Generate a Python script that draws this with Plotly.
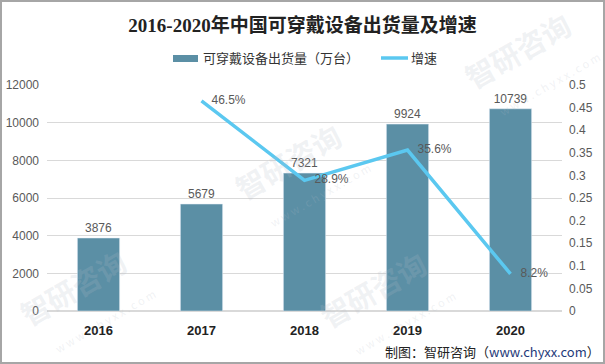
import plotly.graph_objects as go

years = ["2016", "2017", "2018", "2019", "2020"]
shipments = [3876, 5679, 7321, 9924, 10739]
growth_years = ["2017", "2018", "2019", "2020"]
growth = [0.465, 0.289, 0.356, 0.082]
growth_labels = ["46.5%", "28.9%", "35.6%", "8.2%"]

series_bar_name = "可穿戴设备出货量（万台）"
series_line_name = "增速"

BAR_COLOR = "#5B8FA5"
LINE_COLOR = "#5BC8F0"

L, R, T, B = 47, 43, 85, 53
W, H = 605, 364
pw, ph = W - L - R, H - T - B

def px(x):
    return (x - L) / pw

def py(y):
    return (H - B - y) / ph

fig = go.Figure()
fig.add_trace(go.Bar(
    x=years, y=shipments, name=series_bar_name,
    marker_color=BAR_COLOR, width=0.41,
    text=[str(v) for v in shipments], textposition="outside",
    textfont=dict(family="Liberation Sans, Arial", color="#595959", size=12), cliponaxis=False,
    showlegend=False,
))
fig.add_trace(go.Scatter(
    x=growth_years, y=growth, name=series_line_name, yaxis="y2", mode="lines+text",
    line=dict(color=LINE_COLOR, width=3.5),
    text=["\u00a0\u00a0\u00a0" + s for s in growth_labels], textposition="middle right",
    textfont=dict(family="Liberation Sans, Arial", color="#595959", size=12), cliponaxis=False,
    showlegend=False,
))

# faint watermarks (kept inside the picture)
wm_centers = [(530, 62), (300, 172), (85, 298), (385, 300)]
annotations = []
for (cx, cy) in wm_centers:
    annotations.append(dict(
        text="<b>智研咨询</b><br><span style='font-size:11px'>     w w w . c h y x x . c o m</span>",
        xref="paper", yref="paper", x=px(cx), y=py(cy), xanchor="center", yanchor="middle",
        showarrow=False, textangle=-30, align="left",
        font=dict(size=29, color="rgba(180,186,198,0.2)")))

# legend (drawn manually)
annotations.append(dict(text=series_bar_name, xref="paper", yref="paper", x=px(201), y=py(58),
                        xanchor="left", yanchor="middle", showarrow=False,
                        font=dict(size=13, color="#333333")))
annotations.append(dict(text=series_line_name, xref="paper", yref="paper", x=px(409), y=py(58),
                        xanchor="left", yanchor="middle", showarrow=False,
                        font=dict(size=13, color="#333333")))
annotations.append(dict(
    text="制图：智研咨询（<span style='color:#1F3A7A'>www.chyxx.com</span>）",
    xref="paper", yref="paper", x=px(602), y=py(351), xanchor="right", yanchor="middle",
    showarrow=False, font=dict(size=13, color="#222222")))

shapes = [
    dict(type="rect", xref="paper", yref="paper", x0=px(173), x1=px(198), y0=py(62), y1=py(55),
         fillcolor=BAR_COLOR, line=dict(width=0)),
    dict(type="line", xref="paper", yref="paper", x0=px(381), x1=px(408), y0=py(58), y1=py(58),
         line=dict(color=LINE_COLOR, width=3.5)),
    dict(type="rect", xref="paper", yref="paper",
         x0=px(1), x1=px(604), y0=py(363), y1=py(1),
         line=dict(color="#A6A6A6", width=2), fillcolor="rgba(0,0,0,0)", layer="above"),
]

fig.update_layout(
    width=W, height=H,
    margin=dict(l=L, r=R, t=T, b=B, autoexpand=False),
    paper_bgcolor="white", plot_bgcolor="white",
    font=dict(family="Noto Sans CJK SC, sans-serif", color="#595959"),
    title=dict(text="<b>2016-2020年中国可穿戴设备出货量及增速</b>",
               x=0.5, xanchor="center", y=1 - 25 / H, yanchor="middle",
               font=dict(family="Liberation Serif, Noto Sans CJK SC, serif", size=19, color="#222222")),
    showlegend=False,
    bargap=0.59,
    xaxis=dict(type="category", showgrid=False, showline=False, ticks="", ticklabelstandoff=10,
               tickfont=dict(family="Liberation Sans, Arial", size=13, color="#222222", weight="bold")),
    yaxis=dict(range=[0, 12000], dtick=2000, tickformat="d", showgrid=True, gridcolor="#D9D9D9", gridwidth=1,
               zeroline=True, zerolinecolor="#D9D9D9", showline=False, ticks="", ticklabelstandoff=7,
               tickfont=dict(family="Liberation Sans, Arial", size=12, color="#595959")),
    yaxis2=dict(range=[0, 0.5], dtick=0.05, overlaying="y", side="right", showgrid=False,
                zeroline=False, showline=False, ticks="", tickformat="~g", ticklabelstandoff=6,
                tickfont=dict(family="Liberation Sans, Arial", size=12, color="#595959")),
    shapes=shapes,
    annotations=annotations,
)

fig.write_html("out.html", config={"displayModeBar": False},
               post_script="document.body.style.margin='0';document.body.style.overflow='hidden';")
